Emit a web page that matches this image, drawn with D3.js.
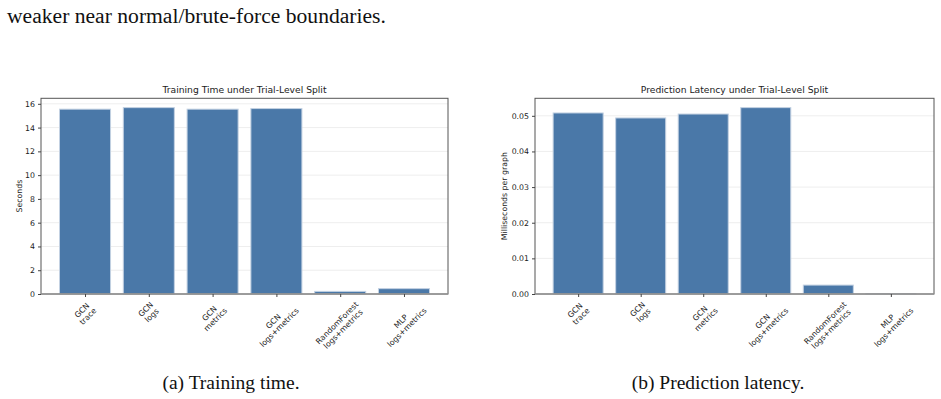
<!DOCTYPE html>
<html>
<head>
<meta charset="utf-8">
<script src="https://cdn.jsdelivr.net/npm/d3@7"></script>
<style>
  body { margin: 0; background: #fff; }
  svg { display: block; }
  .tick text { font-family: "DejaVu Sans", sans-serif; fill: #222; }
</style>
</head>
<body>
<svg id="fig" width="941" height="399"></svg>
<script>
var models = ["GCN\ntrace", "GCN\nlogs", "GCN\nmetrics", "GCN\nlogs+metrics",
              "RandomForest\nlogs+metrics", "MLP\nlogs+metrics"];

// seconds
var trainTime = [15.55, 15.68, 15.55, 15.6, 0.22, 0.45];
// ms per graph
var latency = [0.0508, 0.0494, 0.0505, 0.0523, 0.0025, 0.00005];

var trainTicks = [0, 2, 4, 6, 8, 10, 12, 14, 16];
var latencyTicks = [0, 0.01, 0.02, 0.03, 0.04, 0.05];

var svg = d3.select("#fig");

// text around the figure
svg.append("text")
    .attr("x", 7)
    .attr("y", 23)
    .attr("font-family", "Liberation Serif, serif")
    .attr("font-size", 21.6)
    .attr("fill", "#111")
    .text("weaker near normal/brute-force boundaries.");

function drawPanel(opts) {
  var g = svg.append("g");
  var x0 = opts.left, x1 = opts.right, yTop = 98.3, yBot = 294;

  // matplotlib-ish x range: bars width .8 with 5% margins
  var n = models.length;
  var pad = 0.05 * (n - 1 + 0.8);
  var x = d3.scaleLinear()
      .domain([-0.4 - pad, n - 1 + 0.4 + pad])
      .range([x0, x1]);

  var ymax = d3.max(opts.values) * 1.05;
  var y = d3.scaleLinear()
      .domain([0, ymax])
      .range([yBot, yTop]);

  // grid
  g.selectAll(".grid")
    .data(opts.ticks)
    .enter().append("line")
      .attr("x1", x0).attr("x2", x1)
      .attr("y1", d => y(d)).attr("y2", d => y(d))
      .attr("stroke", "#eeeeee")
      .attr("stroke-width", 1);

  // bars
  g.selectAll(".bar")
    .data(opts.values)
    .enter().append("rect")
      .attr("x", (d, i) => x(i - 0.4))
      .attr("width", x(0.8) - x(0))
      .attr("y", d => y(d))
      .attr("height", d => yBot - y(d))
      .attr("fill", "#4a78a8")
      .attr("stroke", "#c3d1e2")
      .attr("stroke-width", 1);

  // frame
  g.append("rect")
      .attr("x", x0).attr("y", yTop)
      .attr("width", x1 - x0).attr("height", yBot - yTop)
      .attr("fill", "none")
      .attr("stroke", "#555")
      .attr("stroke-width", 1);
  g.append("line")
      .attr("x1", x0).attr("x2", x1)
      .attr("y1", yBot).attr("y2", yBot)
      .attr("stroke", "#999")
      .attr("stroke-width", 1.6);

  // y axis
  var yAxis = g.append("g")
      .attr("transform", "translate(" + x0 + ",0)")
      .call(d3.axisLeft(y).tickValues(opts.ticks).tickFormat(opts.fmt)
              .tickSize(3).tickPadding(3));
  yAxis.select(".domain").remove();
  yAxis.selectAll(".tick line").attr("stroke", "#444");
  yAxis.selectAll(".tick text").attr("font-size", 7.8);

  // x axis
  var xAxis = g.append("g")
      .attr("transform", "translate(0," + yBot + ")")
      .call(d3.axisBottom(x).tickValues(d3.range(n)).tickFormat("").tickSize(3));
  xAxis.select(".domain").remove();
  xAxis.selectAll(".tick line").attr("stroke", "#444");

  // rotated two-line labels, centred on tick like matplotlib ha=center
  models.forEach(function(label, i) {
    var lines = label.split("\n");
    var lab = g.append("g");
    var t = lab.append("text")
        .attr("font-family", "DejaVu Sans, sans-serif")
        .attr("font-size", 7.8)
        .attr("fill", "#222")
        .attr("text-anchor", "middle");
    lines.forEach(function(s, k) {
      t.append("tspan")
          .attr("x", 0)
          .attr("dy", k === 0 ? "0" : "1.1em")
          .text(s);
    });
    var bb = t.node().getBBox();
    t.attr("transform", "translate(0," + (-(bb.y + bb.height / 2)) + ")");
    var half = (bb.width + bb.height) / (2 * Math.SQRT2);
    lab.attr("transform", "translate(" + x(i) + "," + (yBot + 6 + half) + ") rotate(-45)");
  });

  // title
  g.append("text")
      .attr("x", (x0 + x1) / 2)
      .attr("y", 93)
      .attr("text-anchor", "middle")
      .attr("font-family", "DejaVu Sans, sans-serif")
      .attr("font-size", 9.2)
      .attr("fill", "#222")
      .text(opts.title);

  // y label
  g.append("text")
      .attr("transform", "translate(" + opts.ylabelX + "," + ((yTop + yBot) / 2) + ") rotate(-90)")
      .attr("text-anchor", "middle")
      .attr("font-family", "DejaVu Sans, sans-serif")
      .attr("font-size", 7.8)
      .attr("fill", "#222")
      .text(opts.ylabel);

  // caption
  svg.append("text")
      .attr("x", opts.capX)
      .attr("y", 389)
      .attr("text-anchor", "middle")
      .attr("font-family", "Liberation Serif, serif")
      .attr("font-size", 19.5)
      .attr("fill", "#111")
      .text(opts.caption);
}

drawPanel({
  left: 41, right: 448,
  values: trainTime, ticks: trainTicks, fmt: d3.format("d"),
  title: "Training Time under Trial-Level Split",
  ylabel: "Seconds", ylabelX: 22,
  caption: "(a) Training time.", capX: 231
});

drawPanel({
  left: 535, right: 934,
  values: latency, ticks: latencyTicks, fmt: d3.format(".2f"),
  title: "Prediction Latency under Trial-Level Split",
  ylabel: "Milliseconds per graph", ylabelX: 507,
  caption: "(b) Prediction latency.", capX: 718
});
</script>
</body>
</html>
